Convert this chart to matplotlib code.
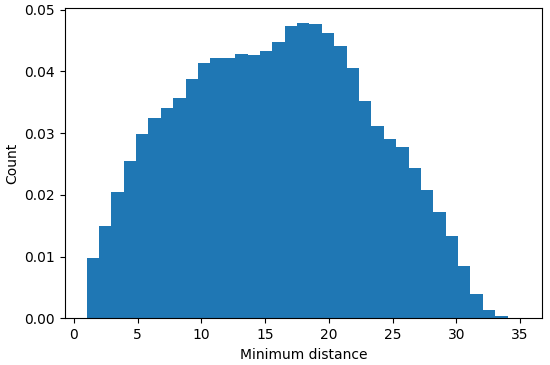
import numpy as np
import matplotlib
matplotlib.use("Agg")
import matplotlib.pyplot as plt

# histogram range and bin count
data_min = 1.0
data_max = 35.0
n_bins = 35

# density values per bin
heights = [0.0098, 0.0149, 0.0204, 0.0255, 0.0299, 0.0324, 0.0340, 0.0356,
           0.0388, 0.0414, 0.0422, 0.0421, 0.0428, 0.0426, 0.0433, 0.0448,
           0.0473, 0.0478, 0.0477, 0.0462, 0.0441, 0.0406, 0.0352, 0.0311,
           0.0290, 0.0278, 0.0244, 0.0207, 0.0172, 0.0134, 0.0084, 0.0039,
           0.0014, 0.0004, 0.0]

edges = np.linspace(data_min, data_max, n_bins + 1)

fig = plt.figure(figsize=(5.5, 3.65), dpi=100)
ax = fig.add_axes([0.118, 0.128, 0.868, 0.849])
ax.hist(edges[:-1], bins=edges, weights=heights, color="#1f77b4")
ax.set_xlim(-0.7, 36.75)
ax.set_xticks([0, 5, 10, 15, 20, 25, 30, 35])
ax.set_yticks([0.00, 0.01, 0.02, 0.03, 0.04, 0.05])
ax.set_yticklabels(["0.00", "0.01", "0.02", "0.03", "0.04", "0.05"])
ax.set_xlabel("Minimum distance")
ax.set_ylabel("Count")
fig.savefig("out.png", dpi=100)
